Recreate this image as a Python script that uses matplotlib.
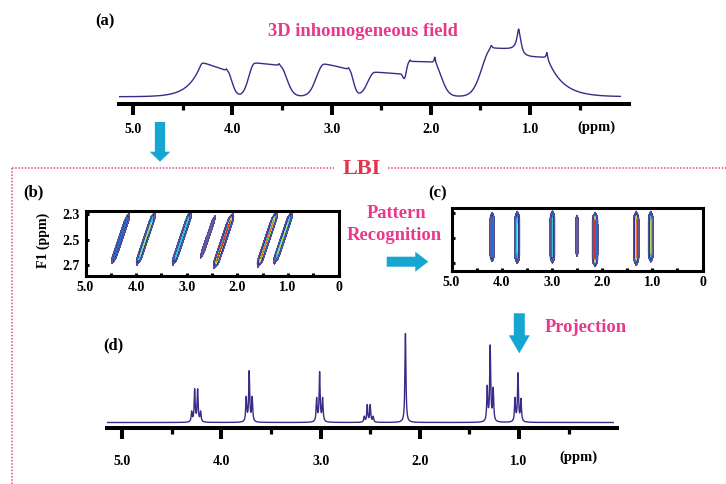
import numpy as np
import matplotlib.pyplot as plt
from matplotlib.patches import FancyArrow

plt.rcParams['font.family'] = ['Liberation Serif', 'DejaVu Serif']
plt.rcParams['font.weight'] = 'bold'

# ---- data ----
# (a) inhomogeneously broadened 1D spectrum: one band per multiplet
band_hi = [4.31, 3.78, 3.08, 2.57, 2.225, 1.39, 1.095]    # high-ppm edge of plateau
band_lo = [4.05, 3.52, 2.82, 2.30, 1.97, 1.115, 0.83]     # low-ppm edge of plateau
band_h_hi = [35, 34.5, 33.5, 25, 35.5, 49, 39.5]           # plateau height at high edge
band_h_lo = [26, 31.5, 27.5, 22.5, 35, 46.5, 39.5]         # plateau height at low edge
tail_hi = [0.12, 0.075, 0.10, 0.09, 0.035, 0.13, 0.01]     # decay length above the band
tail_lo = [0.06, 0.09, 0.05, 0.03, 0.10, 0.01, 0.15]       # decay length below the band
shape_hi = [1, 2, 2, 2, 2, 2, 2]                           # 1 = exponential, 2 = gaussian
shape_lo = [2, 2, 2, 2, 2, 2, 1]
spike_pos = [4.06, 3.53, 2.83, 2.21, 1.96, 1.39, 1.11, 0.83]
spike_h = [2, 2, 2, 2, 6, 3, 25, 6]
spike_w = [0.008, 0.008, 0.008, 0.008, 0.007, 0.01, 0.024, 0.008]

# (d) projected high-resolution spectrum
peak_pos = [4.30, 4.27, 4.24, 4.21, 3.75, 3.72, 3.69, 3.04, 3.01, 2.98,
            2.56, 2.53, 2.50, 2.47, 2.145, 1.32, 1.29, 1.26, 1.04, 1.01, 0.98]
peak_h = [10, 32, 32, 10, 24, 50, 24, 23, 49, 23,
          5.5, 17, 17, 5.5, 89, 34, 75, 32, 23, 48, 22]

# (b)/(c) 2D streaks
f2_sheared = [4.305, 3.805, 3.095, 2.59, 2.255, 1.40, 1.10]
f2_aligned = [4.19, 3.69, 2.99, 2.50, 2.14, 1.32, 1.03]
f1_start = [2.32, 2.315, 2.31, 2.33, 2.33, 2.32, 2.315]
f1_stop = [2.66, 2.67, 2.67, 2.63, 2.69, 2.68, 2.66]
streak_int = [0.45, 0.6, 0.55, 0.19, 1.0, 0.9, 0.6]

major_1d = [5.0, 4.0, 3.0, 2.0, 1.0]
minor_1d = [4.5, 3.5, 2.5, 1.5, 0.5]
major_2d = [5.0, 4.0, 3.0, 2.0, 1.0, 0.0]
labels_2d = ['5.0', '4.0', '3.0', '2.0', '1.0', '0']
f1_ticks = [2.3, 2.5, 2.7]

PINK = '#e8388c'
LBI_RED = '#e4334f'
CYAN = '#16a6d2'
LINE = '#3b2a88'

W, H = 726, 484
fig = plt.figure(figsize=(W / 100, H / 100), dpi=100)


def px_axes(left, top, right, bottom):
    ax = fig.add_axes([left / W, 1 - bottom / H, (right - left) / W, (bottom - top) / H])
    ax.set_facecolor('none')
    return ax


# overlay in pixel coordinates for labels, arrows and the dotted frame
ov = fig.add_axes([0, 0, 1, 1])
ov.set_xlim(0, W)
ov.set_ylim(H, 0)
ov.axis('off')


def setup_1d(ax, xlim, ylim, pad):
    ax.set_xlim(*xlim)
    ax.set_ylim(*ylim)
    for s in ['top', 'left', 'right']:
        ax.spines[s].set_visible(False)
    ax.spines['bottom'].set_linewidth(2.9)
    ax.set_yticks([])
    ax.set_xticks(major_1d, ['%.1f' % v for v in major_1d])
    ax.set_xticks(minor_1d, minor=True)
    ax.tick_params(axis='x', which='major', length=7.8, width=2.9, labelsize=10, pad=pad)
    ax.tick_params(axis='x', which='minor', length=4.3, width=2.3)


# ---- (a) ----
dx = 0.001
x = np.arange(-0.6, 5.8, dx)
prof = np.zeros_like(x)
for i in range(len(band_hi)):
    hi, lo = band_hi[i], band_lo[i]
    y = np.zeros_like(x)
    inside = (x >= lo) & (x <= hi)
    y[inside] = np.interp(x[inside], [lo, hi], [band_h_lo[i], band_h_hi[i]])
    up = x > hi
    y[up] = band_h_hi[i] * np.exp(-((x[up] - hi) / tail_hi[i]) ** shape_hi[i])
    dn = x < lo
    y[dn] = band_h_lo[i] * np.exp(-((lo - x[dn]) / tail_lo[i]) ** shape_lo[i])
    prof += y
u = np.arange(-0.3, 0.3 + dx / 2, dx)
kern = (0.006 / np.pi) / (u ** 2 + 0.006 ** 2) * dx
ya = np.convolve(prof, kern / kern.sum(), mode='same')
for p, h, w in zip(spike_pos, spike_h, spike_w):
    ya += h * (w ** 2) / ((x - p) ** 2 + w ** 2)

axa = px_axes(119.3, 25, 629.3, 104)
m = (x >= 0.09) & (x <= 5.14)
axa.plot(x[m], ya[m], color=LINE, lw=1.0)
setup_1d(axa, (5.141, 0.0), (-7.3, 71.7), 6)

# ---- (d) ----
xd = np.arange(0.05, 5.15, 0.0005)
yd = np.zeros_like(xd)
for p, h in zip(peak_pos, peak_h):
    yd += h * (0.006 ** 2) / ((xd - p) ** 2 + 0.006 ** 2)
axd = px_axes(107, 325, 617, 427.5)
axd.plot(xd, yd, color=LINE, lw=1.0)
setup_1d(axd, (5.154, 0.012), (-5, 97.5), 12)


# ---- (b) and (c) ----
def panel_2d(ax, centers, shear, ylim, ylabels):
    f2 = np.linspace(0, 5, 1400)
    f1 = np.linspace(2.2, 2.8, 300)
    F2, F1 = np.meshgrid(f2, f1)
    Z = np.zeros_like(F2)
    g = 0.008
    for c, a, b, amp in zip(centers, f1_start, f1_stop, streak_int):
        d = F2 - (c + shear * (F1 - 2.49))
        along = 0.25 * (1 + np.tanh((F1 - a) / 0.025)) * (1 - np.tanh((F1 - b) / 0.025))
        across = 0.35 * np.exp(-0.5 * (d / 0.026) ** 2) + 0.65 * g ** 2 / (d ** 2 + g ** 2)
        Z += amp * across * along
    levels = [0.04, 0.2, 0.3, 0.45, 0.58, 0.7, 0.8, 0.9, 1.2]
    cols = ['#675c9c', '#2e3590', '#1f6fd0', '#2ec4d8', '#a6dc60', '#f0d43a', '#e8702a', '#d8302a']
    ax.contourf(F2, F1, Z, levels=levels, colors=cols)
    ax.contour(F2, F1, Z, levels=[0.04], colors='#4a4088', linewidths=0.5)
    ax.set_xlim(5.0, 0.0)
    ax.set_ylim(*ylim)
    for s in ax.spines.values():
        s.set_linewidth(2.2)
    ax.set_xticks(major_2d, labels_2d)
    ax.set_xticks(minor_1d, minor=True)
    ax.set_yticks(f1_ticks, ['%.1f' % v for v in f1_ticks] if ylabels else [])
    ax.tick_params(which='both', direction='in', length=2.2, width=2.2, labelsize=10, pad=4)


axb = px_axes(85.5, 211, 338.5, 275.5)
panel_2d(axb, f2_sheared, 0.85, (2.782, 2.276), True)
axc = px_axes(451.5, 208, 702.5, 270.5)
panel_2d(axc, f2_aligned, 0.0, (2.758, 2.258), False)

# ---- annotations ----
ov.text(105, 21, '(a)', fontsize=12, ha='center', va='center')
ov.text(363, 31, '3D inhomogeneous field', fontsize=13.3, color=PINK, ha='center', va='center')
ov.text(596, 127, '(ppm)', fontsize=10.5, ha='center', va='center')
ov.text(361.5, 169, 'LBI', fontsize=16, color=LBI_RED, ha='center', va='center')
ov.text(33, 192, '(b)', fontsize=12, ha='center', va='center')
ov.text(43, 240, 'F1 (ppm)', fontsize=10, rotation=90, ha='center', va='center')
ov.text(437.7, 193.3, '(c)', fontsize=12, ha='center', va='center')
ov.text(396.7, 213, 'Pattern', fontsize=13.3, color=PINK, ha='center', va='center')
ov.text(394, 236, 'Recognition', fontsize=13.3, color=PINK, ha='center', va='center')
ov.text(585.5, 327, 'Projection', fontsize=13.3, color=PINK, ha='center', va='center')
ov.text(113, 345, '(d)', fontsize=12, ha='center', va='center')
ov.text(578, 457, '(ppm)', fontsize=10.5, ha='center', va='center')

# dotted LBI frame
dot = dict(color='#f0408c', lw=1.1, linestyle=(0, (1, 1.1)))
ov.plot([11.7, 334], [168.3, 168.3], **dot)
ov.plot([388, 726], [168.3, 168.3], **dot)
ov.plot([11.7, 11.7], [168.3, 484], **dot)

# arrows
ov.add_patch(FancyArrow(160, 122, 0, 39.7, width=10.3, head_width=20.7, head_length=10,
                        length_includes_head=True, color=CYAN, lw=0))
ov.add_patch(FancyArrow(386.7, 261.7, 41.6, 0, width=10, head_width=20, head_length=13,
                        length_includes_head=True, color=CYAN, lw=0))
ov.add_patch(FancyArrow(519.3, 313.3, 0, 40, width=11, head_width=21, head_length=18,
                        length_includes_head=True, color=CYAN, lw=0))

fig.savefig('out.png', dpi=100)
